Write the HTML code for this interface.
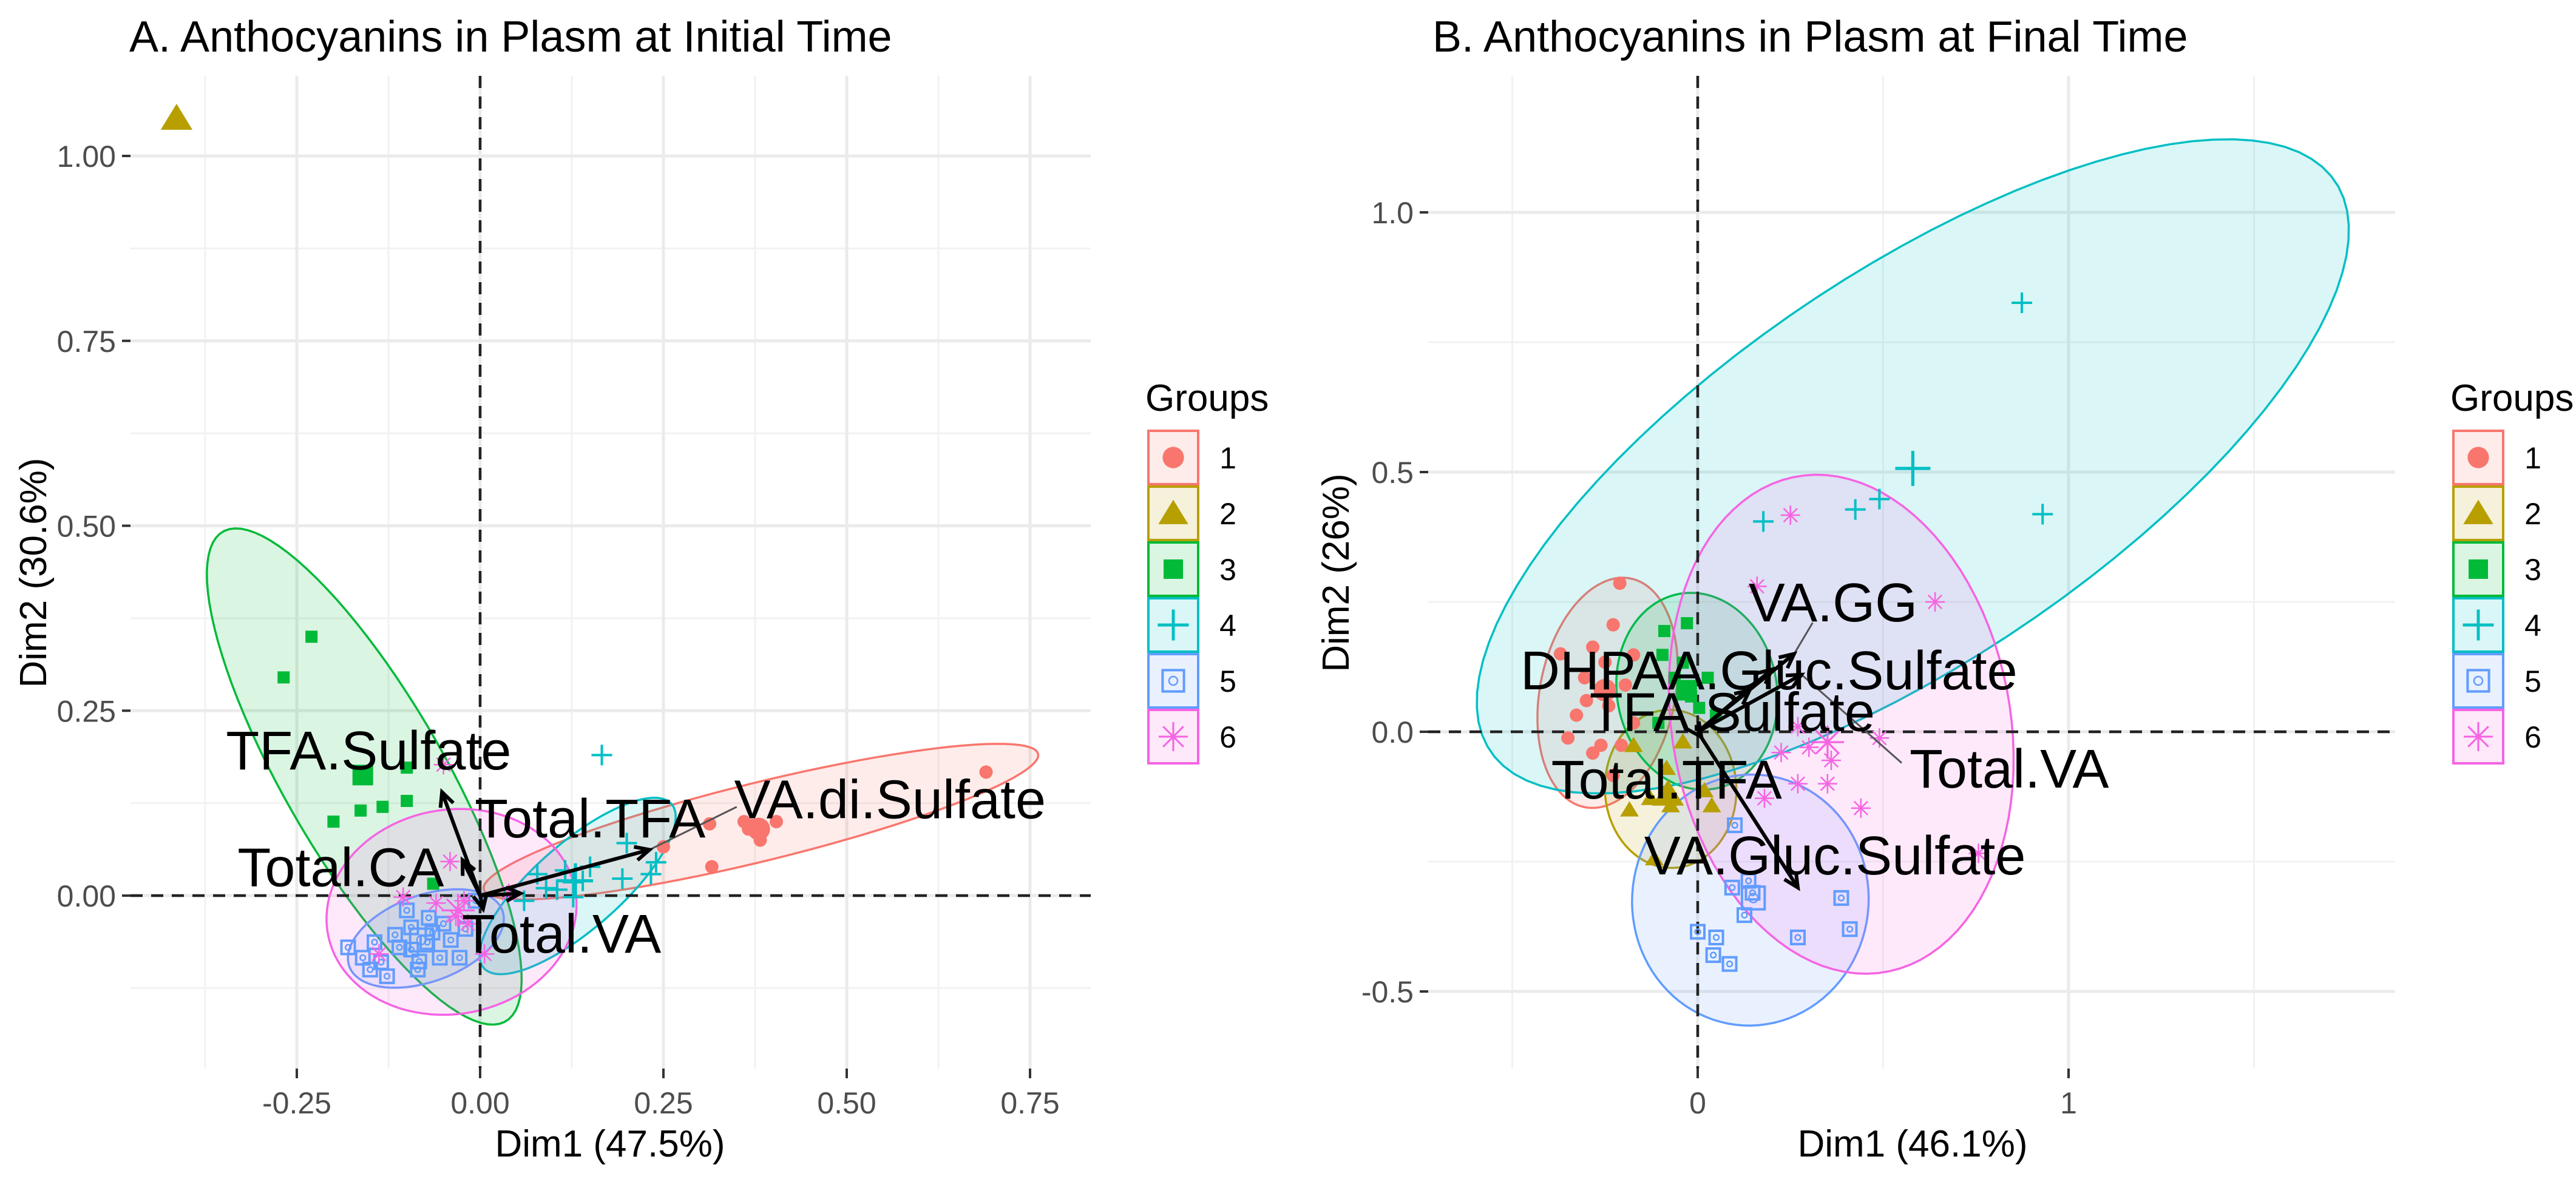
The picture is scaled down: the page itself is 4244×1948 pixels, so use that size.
<!DOCTYPE html>
<html><head><meta charset="utf-8">
<style>
html,body{margin:0;padding:0;background:#fff;}
svg{display:block;}
text{font-family:"Liberation Sans",Arial,sans-serif;}
</style></head>
<body>
<svg id="chart" width="4244" height="1948" viewBox="0 0 4244 1948" xmlns="http://www.w3.org/2000/svg"></svg>
<script>
// ---------- Panel A data ----------
const A_g1 = [[0.69,0.167],[0.404,0.10],[0.371,0.095],[0.366,0.09],[0.382,0.075],[0.316,0.039],[0.313,0.097],[0.25,0.066],[0.36,0.10]];
const A_g2 = [[-0.414,1.051]];
const A_g3 = [[-0.23,0.35],[-0.268,0.295],[-0.10,0.173],[-0.20,0.10],[-0.163,0.115],[-0.133,0.12],[-0.10,0.128],[-0.064,0.016]];
const A_g4 = [[0.166,0.19],[0.2,0.071],[0.233,0.029],[0.194,0.023],[0.127,0.018],[0.105,0.008],[0.078,0.029],[0.15,0.039],[0.127,-0.002],[0.06,-0.007],[0.116,0.034],[0.09,0.01],[0.14,0.02],[0.24,0.045]];
const A_g5 = [[-0.16,-0.084],[-0.116,-0.053],[-0.094,-0.043],[-0.072,-0.063],[-0.028,-0.084],[-0.127,-0.109],[-0.083,-0.089],[-0.144,-0.063],[-0.05,-0.038],[-0.094,-0.073],[-0.006,-0.007],[-0.055,-0.084],[-0.11,-0.07],[-0.07,-0.03],[-0.135,-0.09],[-0.04,-0.06],[-0.1,-0.02],[-0.065,-0.05],[-0.18,-0.07],[-0.02,-0.045],[-0.085,-0.10],[-0.15,-0.10]];
const A_g6 = [[-0.05,0.177],[-0.041,0.046],[-0.105,-0.002],[-0.033,-0.028],[-0.022,-0.007],[0.006,-0.079],[-0.138,-0.079],[-0.017,-0.038],[0.039,0.003],[-0.06,-0.01]];
const A_centroids = [[0.38,0.09],[-0.414,1.051],[-0.16,0.163],[0.13,0.02],[-0.08,-0.06],[-0.03,-0.02]];
// ellipses: center, conjugate semi-axis A, semi-axis B
const A_ell_center = [[0.383,0.10],null,[-0.158,0.161],[0.133,0.013],[-0.074,-0.058],[-0.039,-0.022]];
const A_ell_axisA = [[0.378,0.092],null,[0.191,-0.332],[0.127,0.112],[0.105,0.036],[0.166,0.041]];
const A_ell_axisB = [[0.0147,-0.051],null,[0.098,0.048],[0.042,-0.041],[0.017,-0.056],[0.039,-0.133]];
const A_var_names = ["TFA.Sulfate","Total.CA","Total.TFA","VA.di.Sulfate","Total.VA"];
const A_var_tips = [[-0.052,0.14],[-0.024,0.048],[0.055,0.003],[0.231,0.062],[0.004,-0.018]];
const A_label_pos = [[-0.152,0.197],[-0.19,0.039],[0.15,0.105],[0.559,0.131],[0.111,-0.051]];
const A_leaders = [[[0.231,0.062],[0.35,0.12]]];
const A_xticks = [-0.25,0,0.25,0.5,0.75];
const A_xtick_labels = ["-0.25","0.00","0.25","0.50","0.75"];
const A_yticks = [0,0.25,0.5,0.75,1.0];
const A_ytick_labels = ["0.00","0.25","0.50","0.75","1.00"];
const A_xminor = [-0.375,-0.125,0.125,0.375,0.625];
const A_yminor = [-0.125,0.125,0.375,0.625,0.875];

// ---------- Panel B data ----------
const B_g1 = [[-0.21,0.286],[-0.37,0.15],[-0.305,0.104],[-0.25,0.134],[-0.195,0.09],[-0.327,0.032],[-0.261,-0.026],[-0.206,-0.026],[-0.173,0.017],[-0.283,-0.041],[-0.228,-0.084],[-0.35,-0.012],[-0.173,0.148],[-0.228,0.206],[-0.283,0.163],[-0.3,0.06],[-0.24,0.05]];
const B_g2 = [[-0.128,-0.128],[-0.073,-0.142],[-0.184,-0.15],[0.038,-0.142],[0.018,-0.113],[-0.117,-0.244],[-0.173,-0.026],[-0.04,-0.019],[-0.084,-0.07]];
const B_g3 = [[-0.029,0.209],[-0.09,0.194],[-0.095,0.148],[-0.018,0.068],[-0.062,0.104],[0.004,0.046],[0.027,0.104],[0.049,0.032],[-0.106,0.017],[-0.04,0.133]];
const B_g4 = [[0.874,0.826],[0.93,0.419],[0.49,0.448],[0.425,0.428],[0.177,0.405]];
const B_g5 = [[0.093,-0.30],[0.148,-0.31],[0.126,-0.353],[0.387,-0.32],[0.41,-0.38],[0.27,-0.396],[0.0,-0.385],[0.05,-0.396],[0.042,-0.43],[0.086,-0.447],[0.137,-0.287],[0.1,-0.18]];
const B_g6 = [[0.25,0.417],[0.64,0.25],[0.16,0.28],[0.27,0.01],[0.30,-0.03],[0.36,-0.055],[0.35,-0.10],[0.44,-0.147],[0.27,-0.1],[0.18,-0.128],[0.757,-0.234],[0.49,-0.012],[0.225,-0.04]];
const B_centroids = [[-0.25,0.08],[-0.08,-0.12],[-0.03,0.08],[0.58,0.507],[0.15,-0.32],[0.35,-0.02]];
const B_ell_center = [[-0.243,0.075],[-0.073,-0.110],[-0.002,0.078],[0.58,0.511],[0.142,-0.324],[0.387,0.0145]];
const B_ell_axisA = [[0.055,0.221],[-0.011,0.152],[-0.033,0.189],[1.128,0.559],[0.316,0.036],[-0.1,0.479]];
const B_ell_axisB = [[0.181,-0.017],[0.177,0.007],[0.215,0.0145],[0.332,-0.290],[0.044,-0.239],[0.454,0.036]];
const B_var_names = ["VA.GG","DHPAA.Gluc.Sulfate","TFA.Sulfate","Total.VA","Total.TFA","VA.Gluc.Sulfate"];
const B_var_tips = [[0.26,0.15],[0.20,0.12],[0.14,0.08],[0.28,0.11],[0.01,-0.01],[0.27,-0.30]];
const B_label_pos = [[0.365,0.25],[0.192,0.119],[0.093,0.039],[0.84,-0.07],[-0.084,-0.091],[0.37,-0.237]];
const B_leaders = [[[0.26,0.15],[0.31,0.21]],[[0.28,0.11],[0.55,-0.06]]];
const B_xticks = [0,1];
const B_xtick_labels = ["0","1"];
const B_yticks = [-0.5,0,0.5,1.0];
const B_ytick_labels = ["-0.5","0.0","0.5","1.0"];
const B_xminor = [-0.5,0.5,1.5];
const B_yminor = [-0.25,0.25,0.75];

const groupNames = ["1","2","3","4","5","6"];
const colors = ["#F8766D","#B79F00","#00BA38","#00BFC4","#619CFF","#F564E3"];

const NS = "http://www.w3.org/2000/svg";
const svg = document.getElementById("chart");
function mk(tag, attrs, parent){
  const e = document.createElementNS(NS, tag);
  for (const k in attrs) e.setAttribute(k, attrs[k]);
  (parent||svg).appendChild(e);
  return e;
}

function drawMarker(g, shape, px, py, col, s){
  let el;
  if (shape===0){ el = mk("circle",{cx:px,cy:py,r:11*s,fill:col},g); }
  else if (shape===1){ const h=14*s; el = mk("polygon",{points:`${px},${py-h} ${px+h*1.1},${py+h*0.8} ${px-h*1.1},${py+h*0.8}`,fill:col},g); }
  else if (shape===2){ const h=10*s; el = mk("rect",{x:px-h,y:py-h,width:2*h,height:2*h,fill:col},g); }
  else if (shape===3){ const h=17*s; el = mk("path",{d:`M${px-h},${py}H${px+h}M${px},${py-h}V${py+h}`,stroke:col,"stroke-width":4*Math.sqrt(s),fill:"none"},g); }
  else if (shape===4){ const h=11*s; el = mk("g",{},g);
    mk("rect",{x:px-h,y:py-h,width:2*h,height:2*h,fill:"none",stroke:col,"stroke-width":4},el);
    mk("circle",{cx:px,cy:py,r:h*0.4,fill:"none",stroke:col,"stroke-width":2.5},el); }
  else { const h=16*s, d=h*0.7; el = mk("path",{d:`M${px-h},${py}H${px+h}M${px},${py-h}V${py+h}M${px-d},${py-d}L${px+d},${py+d}M${px-d},${py+d}L${px+d},${py-d}`,stroke:col,"stroke-width":2.5*Math.sqrt(s),fill:"none"},g); }
  return el;
}

function drawPanel(P){
  const sx = v => P.x0 + v*P.kx;
  const sy = v => P.y0 - v*P.ky;
  const root = mk("g",{});
  
  
  // title
  const t = mk("text",{x:P.titleX,y:85,"font-size":72,fill:"#000"},root);
  t.textContent = P.title;
  
  
  // grid
  const grid = mk("g",{},root);
  
  
  P.xminor.forEach(v=>mk("line",{x1:sx(v),x2:sx(v),y1:P.top,y2:P.bottom,stroke:"#f2f2f2","stroke-width":3},grid));
  P.yminor.forEach(v=>mk("line",{y1:sy(v),y2:sy(v),x1:P.left,x2:P.right,stroke:"#f2f2f2","stroke-width":3},grid));
  P.xticks.forEach(v=>mk("line",{x1:sx(v),x2:sx(v),y1:P.top,y2:P.bottom,stroke:"#ebebeb","stroke-width":5},grid));
  P.yticks.forEach(v=>mk("line",{y1:sy(v),y2:sy(v),x1:P.left,x2:P.right,stroke:"#ebebeb","stroke-width":5},grid));
  // ticks + labels
  const ax = mk("g",{},root);
  
  
  P.xticks.forEach((v,i)=>{
    mk("line",{x1:sx(v),x2:sx(v),y1:P.bottom,y2:P.bottom+16,stroke:"#333","stroke-width":4},ax);
    const tl = mk("text",{x:sx(v),y:1835,"font-size":50,fill:"#4d4d4d","text-anchor":"middle"},ax);
    tl.textContent = P.xlabels[i];
    
    
  });
  const xt = mk("text",{x:P.xTitleX,y:1906,"font-size":62,fill:"#000","text-anchor":"middle"},ax);
  xt.textContent = P.xTitle;
  
  
  const ay = mk("g",{},root);
  
  
  P.yticks.forEach((v,i)=>{
    mk("line",{x1:P.left-14,x2:P.left,y1:sy(v),y2:sy(v),stroke:"#333","stroke-width":4},ay);
    const tl = mk("text",{x:P.left-24,y:sy(v)+18,"font-size":50,fill:"#4d4d4d","text-anchor":"end"},ay);
    tl.textContent = P.ylabels[i];
    
    
  });
  const yt = mk("text",{x:0,y:0,"font-size":62,fill:"#000","text-anchor":"middle",transform:`translate(${P.yTitleX},944) rotate(-90)`},ay);
  yt.textContent = P.yTitle;
  
  

  // clip
  const cid = "clip"+P.id;
  const cp = mk("clipPath",{id:cid},root);
  mk("rect",{x:P.left,y:P.top,width:P.right-P.left,height:P.bottom-P.top},cp);
  const plot = mk("g",{"clip-path":`url(#${cid})`},root);

  // ellipses
  P.ellC.forEach((c,gi)=>{
    if(!c) return;
    const A=P.ellA[gi], B=P.ellB[gi];
    let d="";
    for(let k=0;k<=96;k++){
      const th = k/96*2*Math.PI;
      const vx = c[0]+Math.cos(th)*A[0]+Math.sin(th)*B[0];
      const vy = c[1]+Math.cos(th)*A[1]+Math.sin(th)*B[1];
      d += (k?"L":"M")+sx(vx).toFixed(1)+","+sy(vy).toFixed(1);
    }
    const e = mk("path",{d:d+"Z",fill:colors[gi],"fill-opacity":0.14,stroke:colors[gi],"stroke-width":3.5},plot);
    
    
  });
  // reference dashed lines
  mk("line",{x1:P.left,x2:P.right,y1:sy(0),y2:sy(0),stroke:"#222","stroke-width":4.5,"stroke-dasharray":"20 14"},plot);
  mk("line",{x1:sx(0),x2:sx(0),y1:P.top,y2:P.bottom,stroke:"#222","stroke-width":4.5,"stroke-dasharray":"20 14"},plot);
  // points
  P.groups.forEach((pts,gi)=>{
    const g = mk("g",{},plot);
    
    
    pts.forEach(p=>{
      const m = drawMarker(g, gi, sx(p[0]), sy(p[1]), colors[gi], 1);
      
      
    });
    const c = P.centroids[gi];
    const m = drawMarker(g, gi, sx(c[0]), sy(c[1]), colors[gi], 1.7);
    
    
  });
  // leader lines
  P.leaders.forEach(L=>{
    const l = mk("line",{x1:sx(L[0][0]),y1:sy(L[0][1]),x2:sx(L[1][0]),y2:sy(L[1][1]),stroke:"#555","stroke-width":3},plot);
    
    
  });
  // arrows
  P.tips.forEach((tp,i)=>{
    const x1=sx(0), y1=sy(0), x2=sx(tp[0]), y2=sy(tp[1]);
    const ang = Math.atan2(y2-y1,x2-x1), h=26;
    const g = mk("g",{},plot);
    
    
    mk("line",{x1,y1,x2,y2,stroke:"#000","stroke-width":6},g);
    mk("path",{d:`M${x2-h*Math.cos(ang-0.45)},${y2-h*Math.sin(ang-0.45)}L${x2},${y2}L${x2-h*Math.cos(ang+0.45)},${y2-h*Math.sin(ang+0.45)}`,stroke:"#000","stroke-width":6,fill:"none"},g);
  });
  // variable labels
  P.names.forEach((n,i)=>{
    const lp = P.labels[i];
    const tx = mk("text",{x:sx(lp[0]),y:sy(lp[1])+32,"font-size":90,fill:"#000","text-anchor":"middle"},plot);
    tx.textContent = n;
    
    
  });

  // legend
  const lg = mk("g",{},root);
  
  
  const lt = mk("text",{x:P.legX-3,y:677,"font-size":62,fill:"#000"},lg);
  lt.textContent = "Groups";
  
  
  groupNames.forEach((gn,gi)=>{
    const ty = 708 + gi*92;
    const key = mk("g",{},lg);
    
    
    mk("rect",{x:P.legX+2,y:ty+2,width:82,height:88,fill:colors[gi],"fill-opacity":0.14,stroke:colors[gi],"stroke-width":4},key);
    drawMarker(key, gi, P.legX+43, ty+46, colors[gi], gi===3||gi===5?1.5:1.6);
    const kt = mk("text",{x:P.legX+133,y:ty+64,"font-size":50,fill:"#000","text-anchor":"middle"},key);
    kt.textContent = gn;
  });
}

drawPanel({id:"panel-a", title:"A. Anthocyanins in Plasm at Initial Time", titleX:213,
  x0:791, kx:1208, y0:1476, ky:1219, left:215, right:1797, top:125, bottom:1761,
  xticks:A_xticks, xlabels:A_xtick_labels, yticks:A_yticks, ylabels:A_ytick_labels, xminor:A_xminor, yminor:A_yminor,
  xTitle:"Dim1 (47.5%)", xTitleX:1005, yTitle:"Dim2 (30.6%)", yTitleX:76,
  groups:[A_g1,A_g2,A_g3,A_g4,A_g5,A_g6], centroids:A_centroids,
  ellC:A_ell_center, ellA:A_ell_axisA, ellB:A_ell_axisB,
  names:A_var_names, tips:A_var_tips, labels:A_label_pos, leaders:A_leaders, legX:1890});

drawPanel({id:"panel-b", title:"B. Anthocyanins in Plasm at Final Time", titleX:2360,
  x0:2797, kx:611, y0:1206, ky:856, left:2353, right:3946, top:125, bottom:1761,
  xticks:B_xticks, xlabels:B_xtick_labels, yticks:B_yticks, ylabels:B_ytick_labels, xminor:B_xminor, yminor:B_yminor,
  xTitle:"Dim1 (46.1%)", xTitleX:3151, yTitle:"Dim2 (26%)", yTitleX:2222,
  groups:[B_g1,B_g2,B_g3,B_g4,B_g5,B_g6], centroids:B_centroids,
  ellC:B_ell_center, ellA:B_ell_axisA, ellB:B_ell_axisB,
  names:B_var_names, tips:B_var_tips, labels:B_label_pos, leaders:B_leaders, legX:4040});
</script>
</body></html>
